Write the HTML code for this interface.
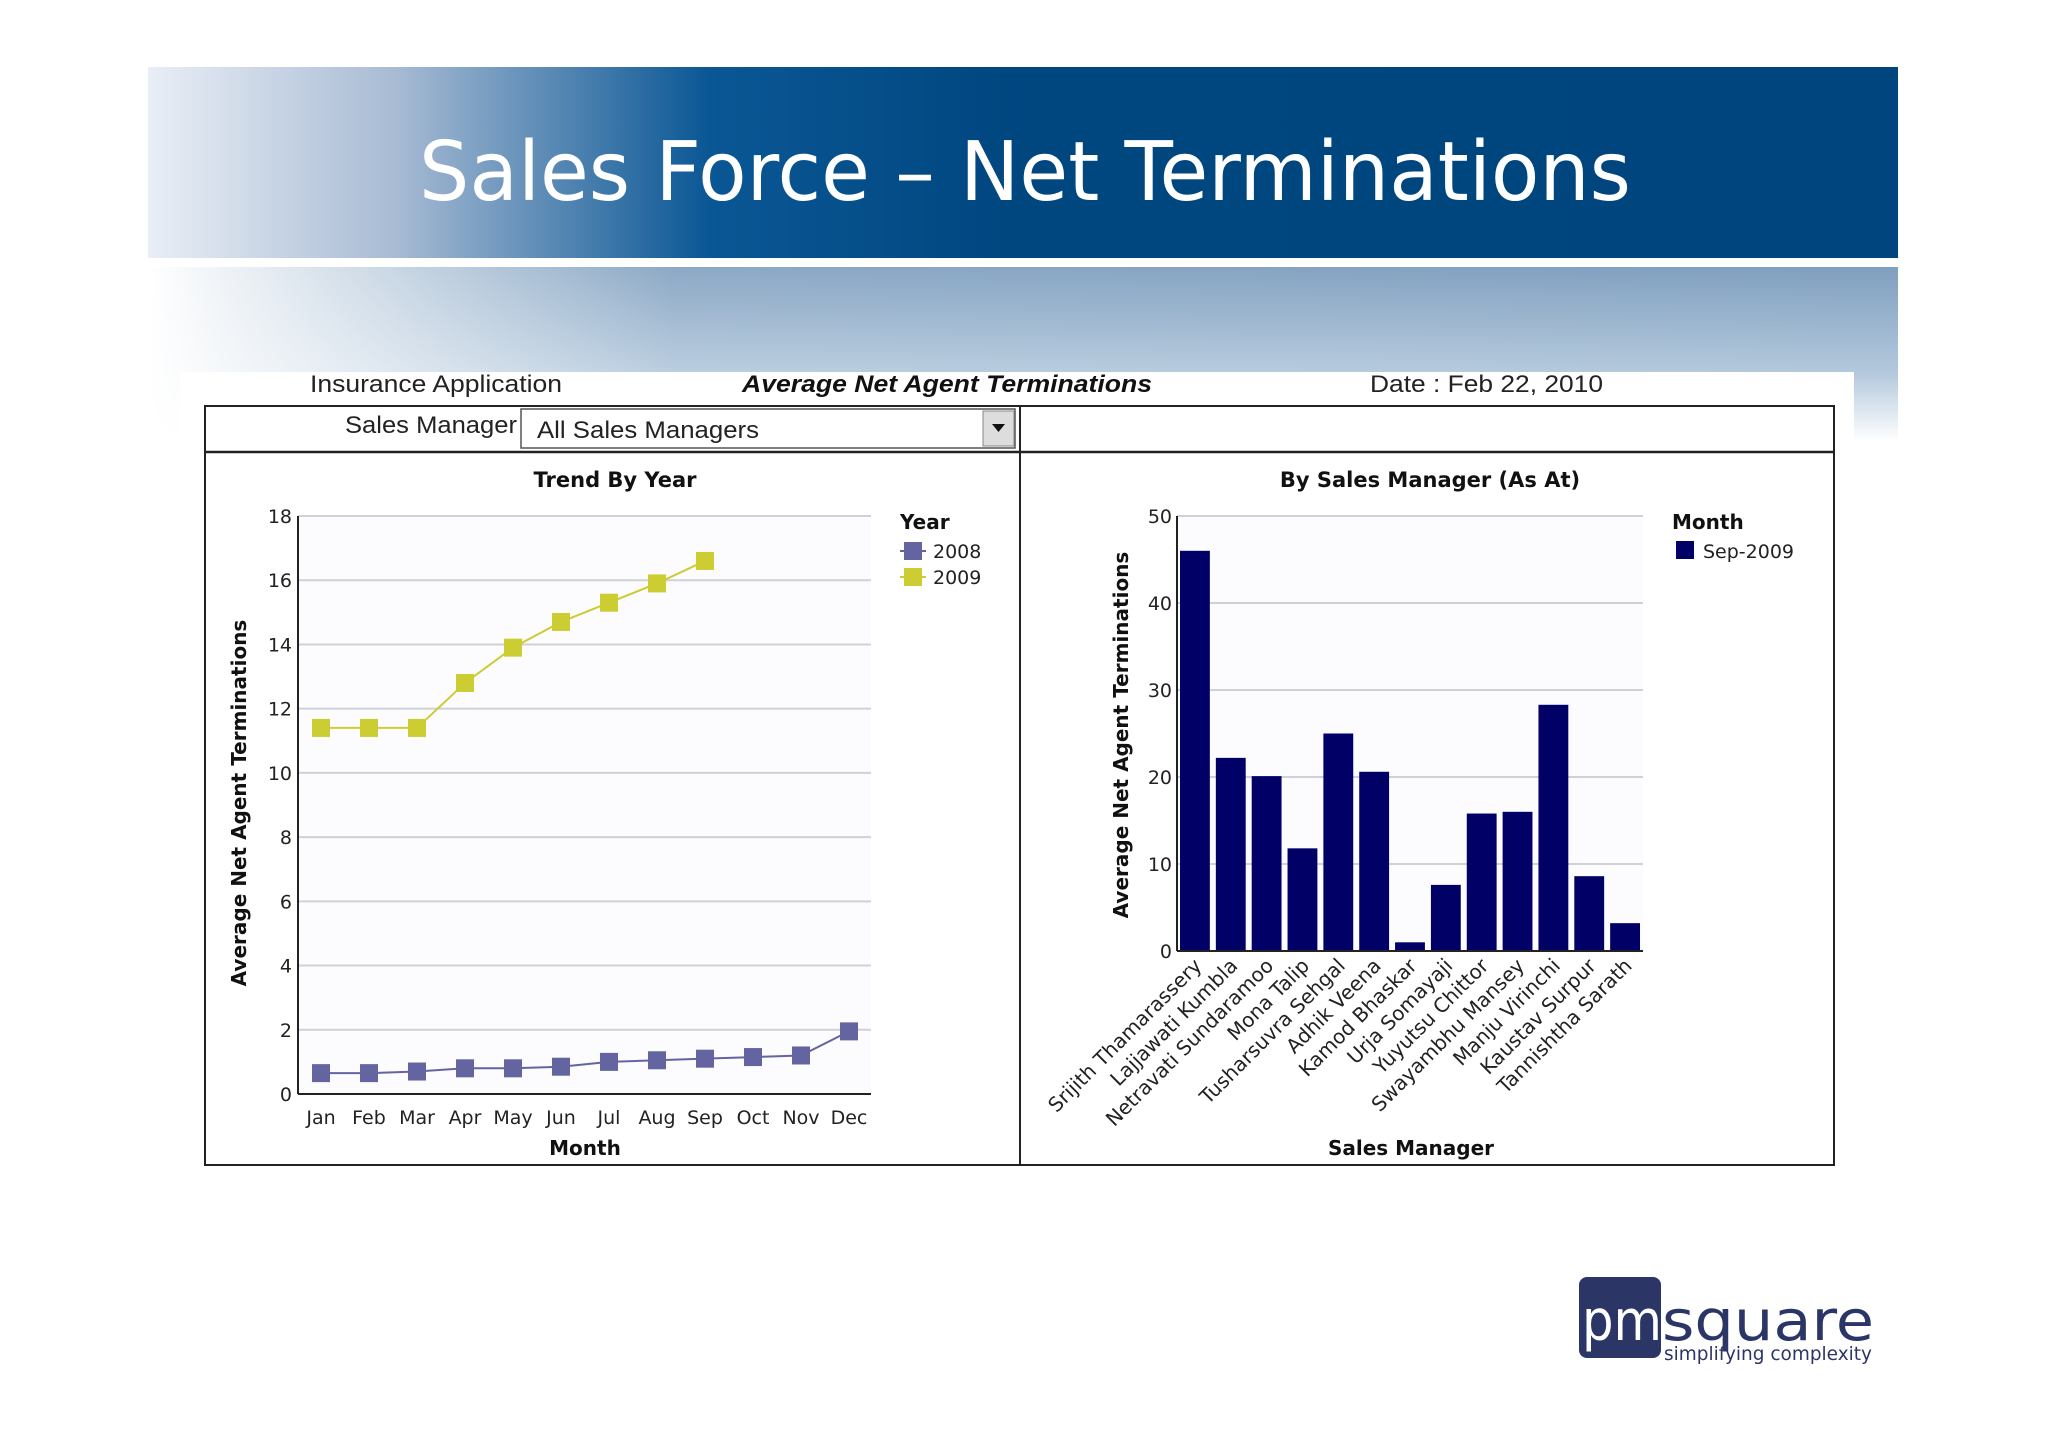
<!DOCTYPE html>
<html><head><meta charset="utf-8"><style>
html,body{margin:0;padding:0;background:#fff;}
svg{display:block;font-family:"DejaVu Sans","Liberation Sans",sans-serif;}
</style></head><body>
<svg id="root" width="2048" height="1447" viewBox="0 0 2048 1447">
<defs>
<linearGradient id="bannerG" x1="0" x2="1" y1="0" y2="0">
<stop offset="0" stop-color="#e9eef6"/><stop offset="0.14" stop-color="#a9bcd4"/><stop offset="0.32" stop-color="#0a5795"/><stop offset="0.5" stop-color="#00467f"/><stop offset="1" stop-color="#00457e"/></linearGradient>
<linearGradient id="bandV" x1="0" x2="0" y1="0" y2="1">
<stop offset="0" stop-color="#7f9fbf"/><stop offset="0.6" stop-color="#b3c8dc"/><stop offset="1" stop-color="#ffffff"/></linearGradient>
<linearGradient id="bandH" x1="0" x2="1" y1="0" y2="0">
<stop offset="0" stop-color="#fff" stop-opacity="1"/><stop offset="0.3" stop-color="#fff" stop-opacity="0.1"/><stop offset="1" stop-color="#fff" stop-opacity="0"/></linearGradient>
</defs>
<rect x="148" y="67" width="1750" height="191" fill="url(#bannerG)"/>
<text x="1025" y="200" text-anchor="middle" font-size="82" fill="#fff" textLength="1212" lengthAdjust="spacingAndGlyphs">Sales Force – Net Terminations</text>
<rect x="148" y="267" width="1750" height="175" fill="url(#bandV)"/>
<rect x="148" y="267" width="1750" height="175" fill="url(#bandH)"/>
<rect x="180" y="372" width="1674" height="800" fill="#fff"/>

<text x="310" y="392" font-size="24" fill="#222" font-family="Liberation Sans, sans-serif" textLength="252" lengthAdjust="spacingAndGlyphs">Insurance Application</text>
<text x="947" y="392" text-anchor="middle" font-size="24" font-weight="bold" font-style="italic" fill="#111" font-family="Liberation Sans, sans-serif" textLength="410" lengthAdjust="spacingAndGlyphs">Average Net Agent Terminations</text>
<text x="1370" y="392" font-size="24" fill="#222" font-family="Liberation Sans, sans-serif" textLength="233" lengthAdjust="spacingAndGlyphs">Date : Feb 22, 2010</text>

<rect x="205" y="406" width="1629" height="759" fill="none" stroke="#222" stroke-width="2"/>
<line x1="205" y1="452" x2="1834" y2="452" stroke="#222" stroke-width="2.5"/>
<line x1="1020" y1="406" x2="1020" y2="1165" stroke="#222" stroke-width="2"/>
<text x="517" y="433" text-anchor="end" font-size="24" fill="#222" font-family="Liberation Sans, sans-serif" textLength="172" lengthAdjust="spacingAndGlyphs">Sales Manager</text>
<g>
<rect x="521" y="409" width="494" height="39" fill="#fff" stroke="#555" stroke-width="1.5"/>
<text x="537" y="438" font-size="24" fill="#222" font-family="Liberation Sans, sans-serif" textLength="222" lengthAdjust="spacingAndGlyphs">All Sales Managers</text>
<rect x="983" y="411" width="31" height="35" fill="#ddd" stroke="#888"/>
<polygon points="992,424 1005,424 998.5,432" fill="#111"/>
</g>

<g id="lineChart"></g>
<g id="barChart"></g>

<g>
<rect x="1579" y="1277" width="82" height="81" rx="8" fill="#2b3666"/>
<text x="1582" y="1340" font-size="56" fill="#fff" textLength="80" lengthAdjust="spacingAndGlyphs">pm</text>
<text x="1662" y="1340" font-size="56" fill="#2b3666" textLength="212" lengthAdjust="spacingAndGlyphs">square</text>
<text x="1664" y="1360" font-size="19" fill="#2b3666" textLength="208" lengthAdjust="spacingAndGlyphs">simplifying complexity</text>
</g>
</svg>
<script>
const NS='http://www.w3.org/2000/svg';
const months=['Jan','Feb','Mar','Apr','May','Jun','Jul','Aug','Sep','Oct','Nov','Dec'];
const series2008=[0.65,0.65,0.7,0.8,0.8,0.85,1.0,1.05,1.1,1.15,1.2,1.95];
const series2009=[11.4,11.4,11.4,12.8,13.9,14.7,15.3,15.9,16.6];
const lineTicks=[0,2,4,6,8,10,12,14,16,18];
const managers=['Srijith Thamarassery','Lajjawati Kumbla','Netravati Sundaramoo','Mona Talip','Tusharsuvra Sehgal','Adhik Veena','Kamod Bhaskar','Urja Somayaji','Yuyutsu Chittor','Swayambhu Mansey','Manju Virinchi','Kaustav Surpur','Tannishtha Sarath'];
const sep2009=[46,22.2,20.1,11.8,25,20.6,1,7.6,15.8,16,28.3,8.6,3.2];
const barTicks=[0,10,20,30,40,50];

function mk(tag,attrs,parent,txt){const e=document.createElementNS(NS,tag);for(const k in attrs)e.setAttribute(k,attrs[k]);if(txt!==undefined)e.textContent=txt;parent.appendChild(e);return e;}

(function(){
const g=document.getElementById('lineChart');
const L=298,R=871,T=516,B=1094;
const y=v=>B-(v/18)*(B-T);
const x=i=>321+i*48;
mk('rect',{x:L,y:T,width:R-L,height:B-T,fill:'#fcfcfe'},g);
lineTicks.forEach(t=>{
 const gl=mk('line',{x1:L,x2:R,y1:y(t),y2:y(t),stroke:'#d0d0d8','stroke-width':2},g);
 
 
 const tl=mk('text',{x:L-6,y:y(t)+7,'text-anchor':'end','font-size':19,fill:'#222'},g,String(t));
 
 
});
mk('line',{x1:L,x2:L,y1:T,y2:B,stroke:'#222','stroke-width':2},g);
mk('line',{x1:L,x2:R,y1:B,y2:B,stroke:'#222','stroke-width':2},g);
months.forEach((m,i)=>{
 const t=mk('text',{x:x(i),y:1124,'text-anchor':'middle','font-size':19,fill:'#222'},g,m);
 
 
});
function draw(data,color,name){
 const pts=data.map((v,i)=>x(i)+','+y(v)).join(' ');
 const pl=mk('polyline',{points:pts,fill:'none',stroke:color,'stroke-width':2},g);
 
 
 data.forEach((v,i)=>{
  const r=mk('rect',{x:x(i)-9,y:y(v)-9,width:18,height:18,fill:color},g);
  
  
 });
}
draw(series2008,'#6464a0','series-2008');
draw(series2009,'#cccc33','series-2009');
const tt=mk('text',{x:615,y:487,'text-anchor':'middle','font-size':21,'font-weight':'bold',fill:'#111'},g,'Trend By Year');


const xt=mk('text',{x:585,y:1155,'text-anchor':'middle','font-size':20,'font-weight':'bold',fill:'#111'},g,'Month');


const yt=mk('text',{x:0,y:0,'text-anchor':'middle','font-size':20,'font-weight':'bold',fill:'#111',transform:'translate(246,803) rotate(-90)'},g,'Average Net Agent Terminations');


const lh=mk('text',{x:900,y:529,'font-size':20,'font-weight':'bold',fill:'#111'},g,'Year');


[['2008','#6464a0',551],['2009','#cccc33',577]].forEach(([n,c,yy])=>{
 const le=mk('g',{},g);
 
 
 mk('line',{x1:900,x2:926,y1:yy,y2:yy,stroke:c,'stroke-width':2},le);
 mk('rect',{x:904,y:yy-9,width:18,height:18,fill:c},le);
 mk('text',{x:933,y:yy+7,'font-size':19,fill:'#222'},le,n);
});
})();

(function(){
const g=document.getElementById('barChart');
const L=1177,R=1643,T=516,B=951;
const y=v=>B-(v/50)*(B-T);
const band=(R-L)/managers.length;
mk('rect',{x:L,y:T,width:R-L,height:B-T,fill:'#fcfcfe'},g);
barTicks.forEach(t=>{
 const gl=mk('line',{x1:L,x2:R,y1:y(t),y2:y(t),stroke:'#d0d0d8','stroke-width':2},g);
 
 
 const tl=mk('text',{x:L-5,y:y(t)+7,'text-anchor':'end','font-size':19,fill:'#222'},g,String(t));
 
 
});
sep2009.forEach((v,i)=>{
 const bx=L+i*band+3;
 const r=mk('rect',{x:bx,y:y(v),width:band-6,height:B-y(v),fill:'#000066'},g);
 
 
 const cx=L+i*band+band/2+8;
 const t=mk('text',{x:0,y:0,'text-anchor':'end','font-size':20,fill:'#222',transform:'translate('+cx+','+(B+16)+') rotate(-45)'},g,managers[i]);
 
 
});
mk('line',{x1:L,x2:L,y1:T,y2:B,stroke:'#222','stroke-width':2},g);
mk('line',{x1:L,x2:R,y1:B,y2:B,stroke:'#222','stroke-width':2},g);
const tt=mk('text',{x:1430,y:487,'text-anchor':'middle','font-size':21,'font-weight':'bold',fill:'#111'},g,'By Sales Manager (As At)');


const xt=mk('text',{x:1411,y:1155,'text-anchor':'middle','font-size':20,'font-weight':'bold',fill:'#111'},g,'Sales Manager');


const yt=mk('text',{x:0,y:0,'text-anchor':'middle','font-size':20,'font-weight':'bold',fill:'#111',transform:'translate(1128,735) rotate(-90)'},g,'Average Net Agent Terminations');


const lh=mk('text',{x:1672,y:529,'font-size':20,'font-weight':'bold',fill:'#111'},g,'Month');


const le=mk('g',{},g);


mk('rect',{x:1676,y:541,width:18,height:18,fill:'#000066'},le);
mk('text',{x:1703,y:558,'font-size':19,fill:'#222'},le,'Sep-2009');
})();
</script>
</body></html>
